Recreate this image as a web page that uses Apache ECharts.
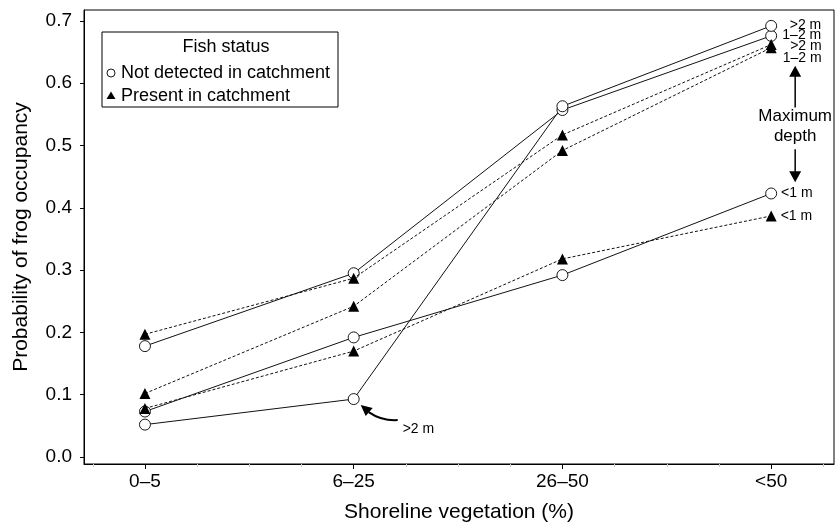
<!DOCTYPE html>
<html><head><meta charset="utf-8">
<script src="https://cdn.jsdelivr.net/npm/echarts@6/dist/echarts.min.js"></script>
<style>html,body{margin:0;padding:0;background:#fff}#c{width:836px;height:528px}</style>
</head><body><div id="c"></div>
<script>
// ---- data ----
const categories = ['0–5', '6–25', '26–50', '<50'];
const yTicks = [0, 0.1, 0.2, 0.3, 0.4, 0.5, 0.6, 0.7];
const depthNames = ['>2 m', '1–2 m', '<1 m'];
const notDetectedGt2 = [0.052, 0.093, 0.563, 0.692];
const notDetected1to2 = [0.178, 0.295, 0.557, 0.676];
const notDetectedLt1 = [0.073, 0.192, 0.292, 0.423];
const presentGt2 = [0.197, 0.287, 0.517, 0.662];
const present1to2 = [0.102, 0.242, 0.492, 0.657];
const presentLt1 = [0.078, 0.170, 0.318, 0.387];
const legendTitle = 'Fish status';
const legendNames = ['Not detected in catchment', 'Present in catchment'];

const FONT = 'Liberation Sans, Arial, Helvetica, sans-serif';
const chart = echarts.init(document.getElementById('c'), null, {renderer: 'canvas'});

function build(values, label) {
  return values.map((v, i) => {
    if (i === values.length - 1 && label) {
      return {value: [i, v], label: Object.assign({show: true, fontFamily: FONT, fontSize: 14, color: '#000'}, label)};
    }
    return [i, v];
  });
}
const topLab = (name, dy) => ({formatter: name, position: [56, 5.5 + dy], align: 'right', verticalAlign: 'middle'});
const lowLab = (name) => ({formatter: name, position: 'right', distance: 4});

function lineSeries(name, values, dashed, label) {
  return {
    type: 'line', name: name, data: build(values, label),
    symbol: dashed ? 'triangle' : 'circle', symbolSize: 11,
    itemStyle: dashed ? {color: '#000'} : {color: '#fff', borderColor: '#000', borderWidth: 0.9},
    lineStyle: {color: '#111', width: 1, type: dashed ? [3, 2] : 'solid'},
    emphasis: {disabled: true}, animation: false, z: dashed ? 3 : 2
  };
}

const xMin = -0.292, xMax = 3.301;
chart.setOption({
  animation: false,
  grid: {left: 84, right: 2, top: 10, bottom: 61, show: true, borderColor: '#000', borderWidth: 1},
  xAxis: [{
    type: 'value', min: xMin, max: xMax,
    axisLine: {show: true, onZero: false, lineStyle: {color: '#000', width: 1}},
    axisTick: {show: true, customValues: [0, 1, 2, 3], length: 5, lineStyle: {color: '#000'}},
    axisLabel: {customValues: [0, 1, 2, 3], formatter: v => categories[Math.round(v)], fontFamily: FONT, fontSize: 19, color: '#000', margin: 8},
    splitLine: {show: false},
    name: 'Shoreline vegetation (%)', nameLocation: 'middle', nameGap: 38,
    nameTextStyle: {fontFamily: FONT, fontSize: 21, color: '#000'}
  }, {
    type: 'value', min: xMin, max: xMax, position: 'bottom', gridIndex: 0,
    axisLine: {show: false, onZero: false},
    axisTick: {show: true, customValues: [-0.25, 0.25, 0.5, 0.75, 1.25, 1.5, 1.75, 2.25, 2.5, 2.75, 3.25], length: 3, lineStyle: {color: '#ccc'}},
    axisLabel: {show: false}, splitLine: {show: false}
  }],
  yAxis: {
    type: 'value', min: -0.0112, max: 0.7175,
    axisLine: {show: true, onZero: false, lineStyle: {color: '#000', width: 1}},
    axisTick: {show: true, customValues: yTicks, length: 4, lineStyle: {color: '#000'}},
    axisLabel: {customValues: yTicks, formatter: v => v.toFixed(1), fontFamily: FONT, fontSize: 19, color: '#000', margin: 12},
    splitLine: {show: false},
    name: 'Probability of frog occupancy', nameLocation: 'middle', nameGap: 52,
    nameTextStyle: {fontFamily: FONT, fontSize: 21, color: '#000'}
  },
  series: [
    lineSeries(legendNames[0], notDetectedLt1, false, lowLab(depthNames[2])),
    lineSeries(legendNames[0], notDetected1to2, false, topLab(depthNames[1], 0)),
    lineSeries(legendNames[0], notDetectedGt2, false, topLab(depthNames[0], 0)),
    lineSeries(legendNames[1], presentLt1, true, lowLab(depthNames[2])),
    lineSeries(legendNames[1], present1to2, true, topLab(depthNames[1], 10)),
    lineSeries(legendNames[1], presentGt2, true, topLab(depthNames[0], 2))
  ]
});

// ---- annotations (positioned through the chart's scales) ----
const P = (x, y) => chart.convertToPixel({xAxisIndex: 0, yAxisIndex: 0}, [x, y]);
const pArrow = P(1, notDetectedGt2[1]);
const ax = P(3, 0)[0] + 24;
const yUpTip = P(3, 0.628)[1], yUpBase = P(3, 0.561)[1];
const yMax = P(3, 0.547)[1], yDepth = P(3, 0.514)[1];
const yDnTop = P(3, 0.494)[1], yDnTip = P(3, 0.441)[1];

const g = [];
// legend
g.push({type: 'rect', shape: {x: 102, y: 32, width: 236, height: 75}, style: {fill: '#fff', stroke: '#000', lineWidth: 1}, z: 10});
g.push({type: 'text', x: 226, y: 47, style: {text: legendTitle, font: '18px ' + FONT, fill: '#000', align: 'center', verticalAlign: 'middle'}, z: 11});
g.push({type: 'circle', shape: {cx: 111, cy: 73, r: 4}, style: {fill: '#fff', stroke: '#000', lineWidth: 0.9}, z: 11});
g.push({type: 'text', x: 121, y: 73, style: {text: legendNames[0], font: '18px ' + FONT, fill: '#000', align: 'left', verticalAlign: 'middle'}, z: 11});
g.push({type: 'polygon', shape: {points: [[111, 91.5], [106.5, 99], [115.5, 99]]}, style: {fill: '#000'}, z: 11});
g.push({type: 'text', x: 121, y: 96, style: {text: legendNames[1], font: '18px ' + FONT, fill: '#000', align: 'left', verticalAlign: 'middle'}, z: 11});
// maximum depth
g.push({type: 'line', shape: {x1: ax, y1: yUpBase, x2: ax, y2: yUpTip + 8}, style: {stroke: '#000', lineWidth: 1.5}, z: 11});
g.push({type: 'polygon', shape: {points: [[ax, yUpTip], [ax - 6, yUpTip + 11], [ax + 6, yUpTip + 11]]}, style: {fill: '#000'}, z: 11});
g.push({type: 'text', x: ax, y: yMax, style: {text: 'Maximum', font: '17px ' + FONT, fill: '#000', align: 'center', verticalAlign: 'middle'}, z: 11});
g.push({type: 'text', x: ax, y: yDepth, style: {text: 'depth', font: '17px ' + FONT, fill: '#000', align: 'center', verticalAlign: 'middle'}, z: 11});
g.push({type: 'line', shape: {x1: ax, y1: yDnTop, x2: ax, y2: yDnTip - 8}, style: {stroke: '#000', lineWidth: 1.5}, z: 11});
g.push({type: 'polygon', shape: {points: [[ax, yDnTip], [ax - 6, yDnTip - 11], [ax + 6, yDnTip - 11]]}, style: {fill: '#000'}, z: 11});
// curved arrow to >2 m
const px = pArrow[0], py = pArrow[1];
g.push({type: 'bezierCurve', shape: {x1: px + 44, y1: py + 21, cpx1: px + 28, cpy1: py + 22, x2: px + 15, y2: py + 13}, style: {stroke: '#000', lineWidth: 2, fill: null}, z: 11});
g.push({type: 'polygon', shape: {points: [[px + 7, py + 6], [px + 19, py + 9], [px + 12, py + 17]]}, style: {fill: '#000'}, z: 11});
g.push({type: 'text', x: px + 49, y: py + 30, style: {text: depthNames[0], font: '14px ' + FONT, fill: '#000', align: 'left', verticalAlign: 'middle'}, z: 11});

chart.setOption({graphic: g});
</script></body></html>
